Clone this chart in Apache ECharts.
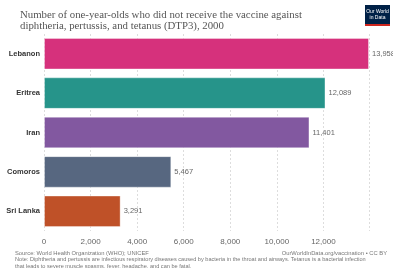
<!DOCTYPE html>
<html>
<head>
<meta charset="utf-8">
<script src="https://cdn.jsdelivr.net/npm/echarts@6/dist/echarts.min.js"></script>
<style>
  html, body { margin: 0; padding: 0; background: #fff; }
  #main { width: 393px; height: 268px; }
</style>
</head>
<body>
<div id="main"></div>
<script>
// countries, top to bottom
var countries = ['Lebanon', 'Eritrea', 'Iran', 'Comoros', 'Sri Lanka'];
var unvaccinated = [13958, 12089, 11401, 5467, 3291];
var barColors = ['#d6317c', '#26948a', '#8258a0', '#576780', '#bf5128'];

var myChart = echarts.init(document.getElementById('main'));

myChart.setOption({
    animation: false,
    title: {
        text: 'Number of one-year-olds who did not receive the vaccine against\ndiphtheria, pertussis, and tetanus (DTP3), 2000',
        left: 15,
        top: 4,
        textStyle: {
            fontFamily: 'Liberation Serif',
            fontWeight: 'normal',
            fontSize: 10.8,
            color: '#555',
            lineHeight: 11.5
        }
    },
    grid: {
        left: 44,
        right: 24,
        top: 34,
        bottom: 37
    },
    xAxis: {
        type: 'value',
        min: 0,
        max: 13958,
        interval: 2000,
        axisLine: { show: false },
        axisTick: { show: false },
        axisLabel: {
            showMaxLabel: false,
            color: '#666',
            fontSize: 8,
            fontFamily: 'Liberation Sans',
            margin: 7,
            formatter: function (v) { return v.toLocaleString('en-US'); }
        },
        splitLine: {
            lineStyle: { color: '#ddd', type: [2, 2], width: 1 }
        }
    },
    yAxis: {
        type: 'category',
        inverse: true,
        data: countries,
        axisLine: { show: false },
        axisTick: { show: false },
        axisLabel: {
            color: '#333',
            fontSize: 7.5,
            fontWeight: 'bold',
            fontFamily: 'Liberation Sans',
            margin: 4
        }
    },
    series: [{
        type: 'bar',
        barCategoryGap: '20%',
        data: unvaccinated.map(function (v, i) {
            return {
                value: v,
                itemStyle: { color: barColors[i], borderColor: 'rgba(255,255,255,0.35)', borderWidth: 1 }
            };
        }),
        label: {
            show: true,
            position: 'right',
            distance: 3,
            color: '#666',
            fontSize: 7.5,
            fontFamily: 'Liberation Sans',
            formatter: function (p) { return p.value.toLocaleString('en-US'); }
        }
    }],
    graphic: [
        {
            type: 'group', left: 365, top: 5,
            children: [
                { type: 'rect', shape: { x: 0, y: 0, width: 25, height: 20 }, style: { fill: '#002147' } },
                { type: 'rect', shape: { x: 0, y: 19, width: 25, height: 2 }, style: { fill: '#ce261e' } },
                { type: 'text', style: { x: 12.5, y: 4, text: 'Our World\nin Data', fill: '#fff', font: '5px Liberation Sans', lineHeight: 6, align: 'center' } }
            ]
        },
        { type: 'text', left: 15, top: 250, style: { text: 'Source: World Health Organization (WHO); UNICEF', fill: '#777', font: '5.8px Liberation Sans' } },
        { type: 'text', right: 6, top: 250, style: { text: 'OurWorldInData.org/vaccination • CC BY', fill: '#777', font: '5.8px Liberation Sans' } },
        { type: 'text', left: 15, top: 256, style: { text: 'Note: Diphtheria and pertussis are infectious respiratory diseases caused by bacteria in the throat and airways. Tetanus is a bacterial infection\nthat leads to severe muscle spasms, fever, headache, and can be fatal.', fill: '#777', font: '5.6px Liberation Sans', lineHeight: 7 } }
    ]
});
</script>
</body>
</html>
